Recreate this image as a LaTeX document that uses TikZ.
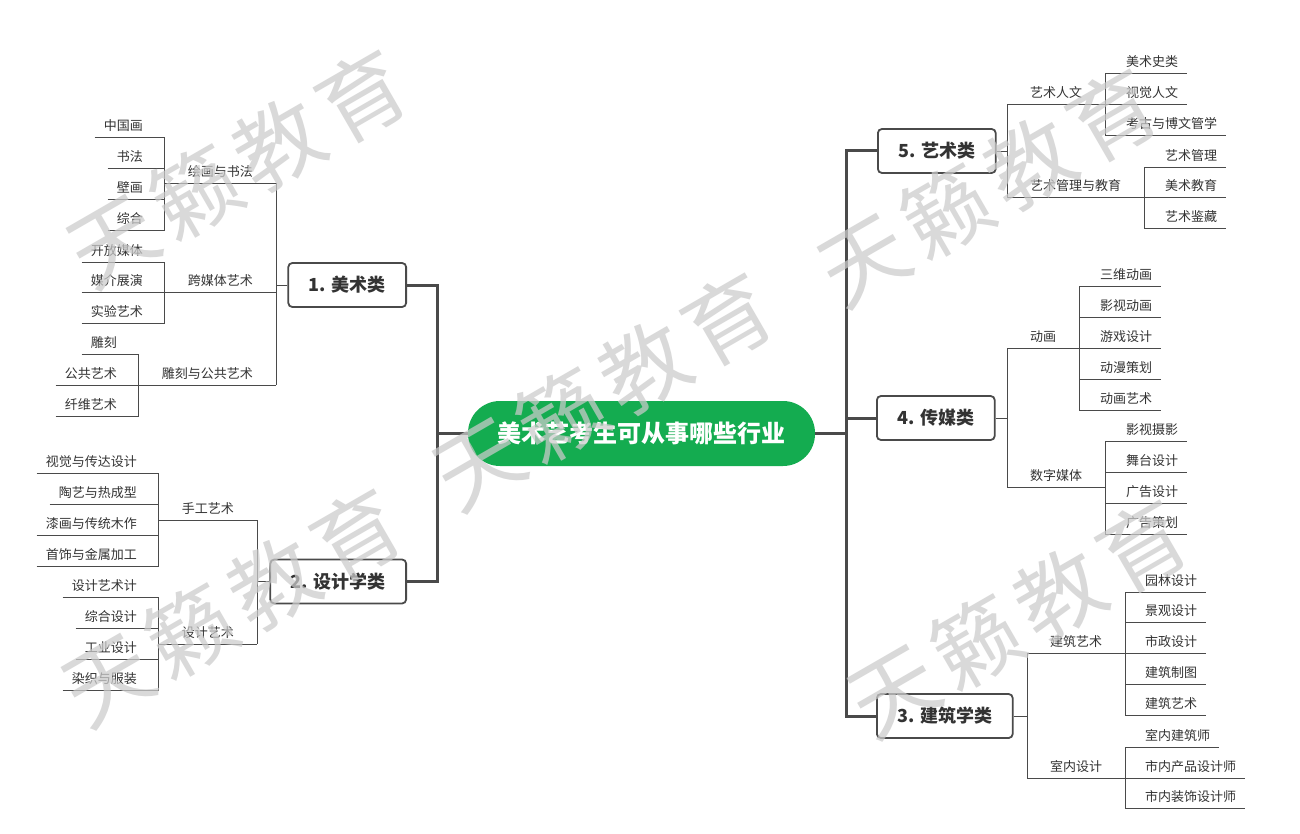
\documentclass[tikz,border=0pt]{standalone}
\usepackage{fontspec}
\setmainfont{Noto Sans CJK SC}
\definecolor{lc}{HTML}{4A4A4A}
\definecolor{tc}{HTML}{333333}
\definecolor{cgreen}{RGB}{20,172,80}
\definecolor{wmc}{RGB}{203,203,203}
\begin{document}
\begin{tikzpicture}[x=1pt,y=-1pt,
  uline/.style={draw=lc, line width=0.9pt},
  conn/.style={draw=lc, line width=0.9pt},
  topic/.style={inner xsep=9pt, inner ysep=5pt, text height=11.5pt, text depth=1.7pt,
    font=\fontsize{13}{15}\selectfont, text=tc,
    append after command={(\tikzlastnode.south west) edge[uline] (\tikzlastnode.south east)}},
  subtopic/.style={topic, inner xsep=23pt},
  mainbox/.style={draw=lc, line width=1.8pt, rounded corners=4pt, fill=white,
    minimum height=44pt, inner xsep=20.5pt, font=\fontsize{18}{20}\selectfont\bfseries, text=tc},
  centre/.style={fill=cgreen, rounded corners=32pt, minimum width=347pt, minimum height=65pt,
    font=\fontsize{24}{26}\selectfont\bfseries, text=white},
  trunk/.style={draw=lc, line width=3pt},
  link/.style={draw=lc, line width=2.2pt},
  wm/.style={text=wmc, opacity=0.73, font=\fontsize{87}{90}\selectfont, rotate=30, inner sep=0pt},
]
\useasboundingbox (0,0) rectangle (1300,834);
\fill[white] (0,0) rectangle (1300,834);

% centre
\node[centre] (c) at (641.5,433.5) {美术艺考生可从事哪些行业};
\coordinate (jl) at (437,433.5);
\coordinate (jr) at (846,433.5);

% main boxes
\node[mainbox, anchor=east] (b1) at (407,285) {1. 美术类};
\node[mainbox, anchor=east] (b2) at (407,581.5) {2. 设计学类};
\node[mainbox, anchor=west] (b5) at (877,151) {5. 艺术类};
\node[mainbox, anchor=west] (b4) at (876,418) {4. 传媒类};
\node[mainbox, anchor=west] (b3) at (876,716) {3. 建筑学类};

\draw[link] (c.west) -- (jl);
\draw[link] (c.east) -- (jr);
\draw[trunk] (b1.east) -| (jl);
\draw[trunk] (b2.east) -| (jl);
\draw[trunk] (b5.west) -| (jr);
\draw[trunk] (b4.west) -| (jr);
\draw[trunk] (b3.west) -| (jr);

% ---------- left sub topics
\node[subtopic, anchor=south east] (s11) at (276,183) {绘画与书法};
\node[subtopic, anchor=south east] (s12) at (276,292) {跨媒体艺术};
\node[subtopic, anchor=south east] (s13) at (276,385) {雕刻与公共艺术};
\node[subtopic, anchor=south east] (s21) at (257,520) {手工艺术};
\node[subtopic, anchor=south east] (s22) at (257,644) {设计艺术};
\foreach \s in {s11,s12,s13} \draw[conn] (b1.west) -| (\s.south east);
\foreach \s in {s21,s22} \draw[conn] (b2.west) -| (\s.south east);

% ---------- right sub topics
\node[subtopic, anchor=south west] (s51) at (1007,104) {艺术人文};
\node[subtopic, anchor=south west] (s52) at (1007,197) {艺术管理与教育};
\node[subtopic, anchor=south west] (s41) at (1007,348) {动画};
\node[subtopic, anchor=south west] (s42) at (1007,487) {数字媒体};
\node[subtopic, anchor=south west] (s31) at (1027,653) {建筑艺术};
\node[subtopic, anchor=south west] (s32) at (1027,778) {室内设计};
\foreach \s in {s51,s52} \draw[conn] (b5.east) -| (\s.south west);
\foreach \s in {s41,s42} \draw[conn] (b4.east) -| (\s.south west);
\foreach \s in {s31,s32} \draw[conn] (b3.east) -| (\s.south west);

% ---------- left leaves
\foreach \n/\y/\t in {a1/137/中国画, a2/168/书法, a3/199/壁画, a4/230/综合}{
  \node[topic, anchor=south east] (\n) at (152,\y) {\t};
  \draw[conn] (s11.south west) |- (\n.south east);}
\foreach \n/\y/\t in {b1a/262/开放媒体, b1b/292/媒介展演, b1c/323/实验艺术}{
  \node[topic, anchor=south east] (\n) at (152,\y) {\t};
  \draw[conn] (s12.south west) |- (\n.south east);}
\foreach \n/\y/\t in {c1/354/雕刻, c2/385/公共艺术, c3/416/纤维艺术}{
  \node[topic, anchor=south east] (\n) at (126,\y) {\t};
  \draw[conn] (s13.south west) |- (\n.south east);}
\foreach \n/\y/\t in {d1/473/视觉与传达设计, d2/504/陶艺与热成型, d3/535/漆画与传统木作, d4/566/首饰与金属加工}{
  \node[topic, anchor=south east] (\n) at (146,\y) {\t};
  \draw[conn] (s21.south west) |- (\n.south east);}
\foreach \n/\y/\t in {e1/597/设计艺术计, e2/628/综合设计, e3/659/工业设计, e4/690/染织与服装}{
  \node[topic, anchor=south east] (\n) at (146,\y) {\t};
  \draw[conn] (s22.south west) |- (\n.south east);}

% ---------- right leaves
\foreach \n/\y/\t in {f1/73/美术史类, f2/104/视觉人文, f3/135/考古与博文管学}{
  \node[topic, anchor=south west] (\n) at (1117,\y) {\t};
  \draw[conn] (s51.south east) |- (\n.south west);}
\foreach \n/\y/\t in {g1/167/艺术管理, g2/197/美术教育, g3/228/艺术鉴藏}{
  \node[topic, anchor=south west] (\n) at (1156,\y) {\t};
  \draw[conn] (s52.south east) |- (\n.south west);}
\foreach \n/\y/\t in {h1/286/三维动画, h2/317/影视动画, h3/348/游戏设计, h4/379/动漫策划, h5/410/动画艺术}{
  \node[topic, anchor=south west] (\n) at (1091,\y) {\t};
  \draw[conn] (s41.south east) |- (\n.south west);}
\foreach \n/\y/\t in {i1/441/影视摄影, i2/472/舞台设计, i3/503/广告设计, i4/534/广告策划}{
  \node[topic, anchor=south west] (\n) at (1117,\y) {\t};
  \draw[conn] (s42.south east) |- (\n.south west);}
\foreach \n/\y/\t in {j1/592/园林设计, j2/622/景观设计, j3/653/市政设计, j4/684/建筑制图, j5/715/建筑艺术}{
  \node[topic, anchor=south west] (\n) at (1136,\y) {\t};
  \draw[conn] (s31.south east) |- (\n.south west);}
\foreach \n/\y/\t in {k1/747/室内建筑师, k2/778/市内产品设计师, k3/808/市内装饰设计师}{
  \node[topic, anchor=south west] (\n) at (1136,\y) {\t};
  \draw[conn] (s32.south east) |- (\n.south west);}

% ---------- watermark
\foreach \n/\x/\y in {w1/237/168, w2/232/607, w3/603/391, w4/988/187, w5/1018/618}{
  \node[wm] (\n) at (\x,\y) {天\hspace{9pt}籁\hspace{9pt}教\hspace{9pt}育};}
\end{tikzpicture}
\end{document}
